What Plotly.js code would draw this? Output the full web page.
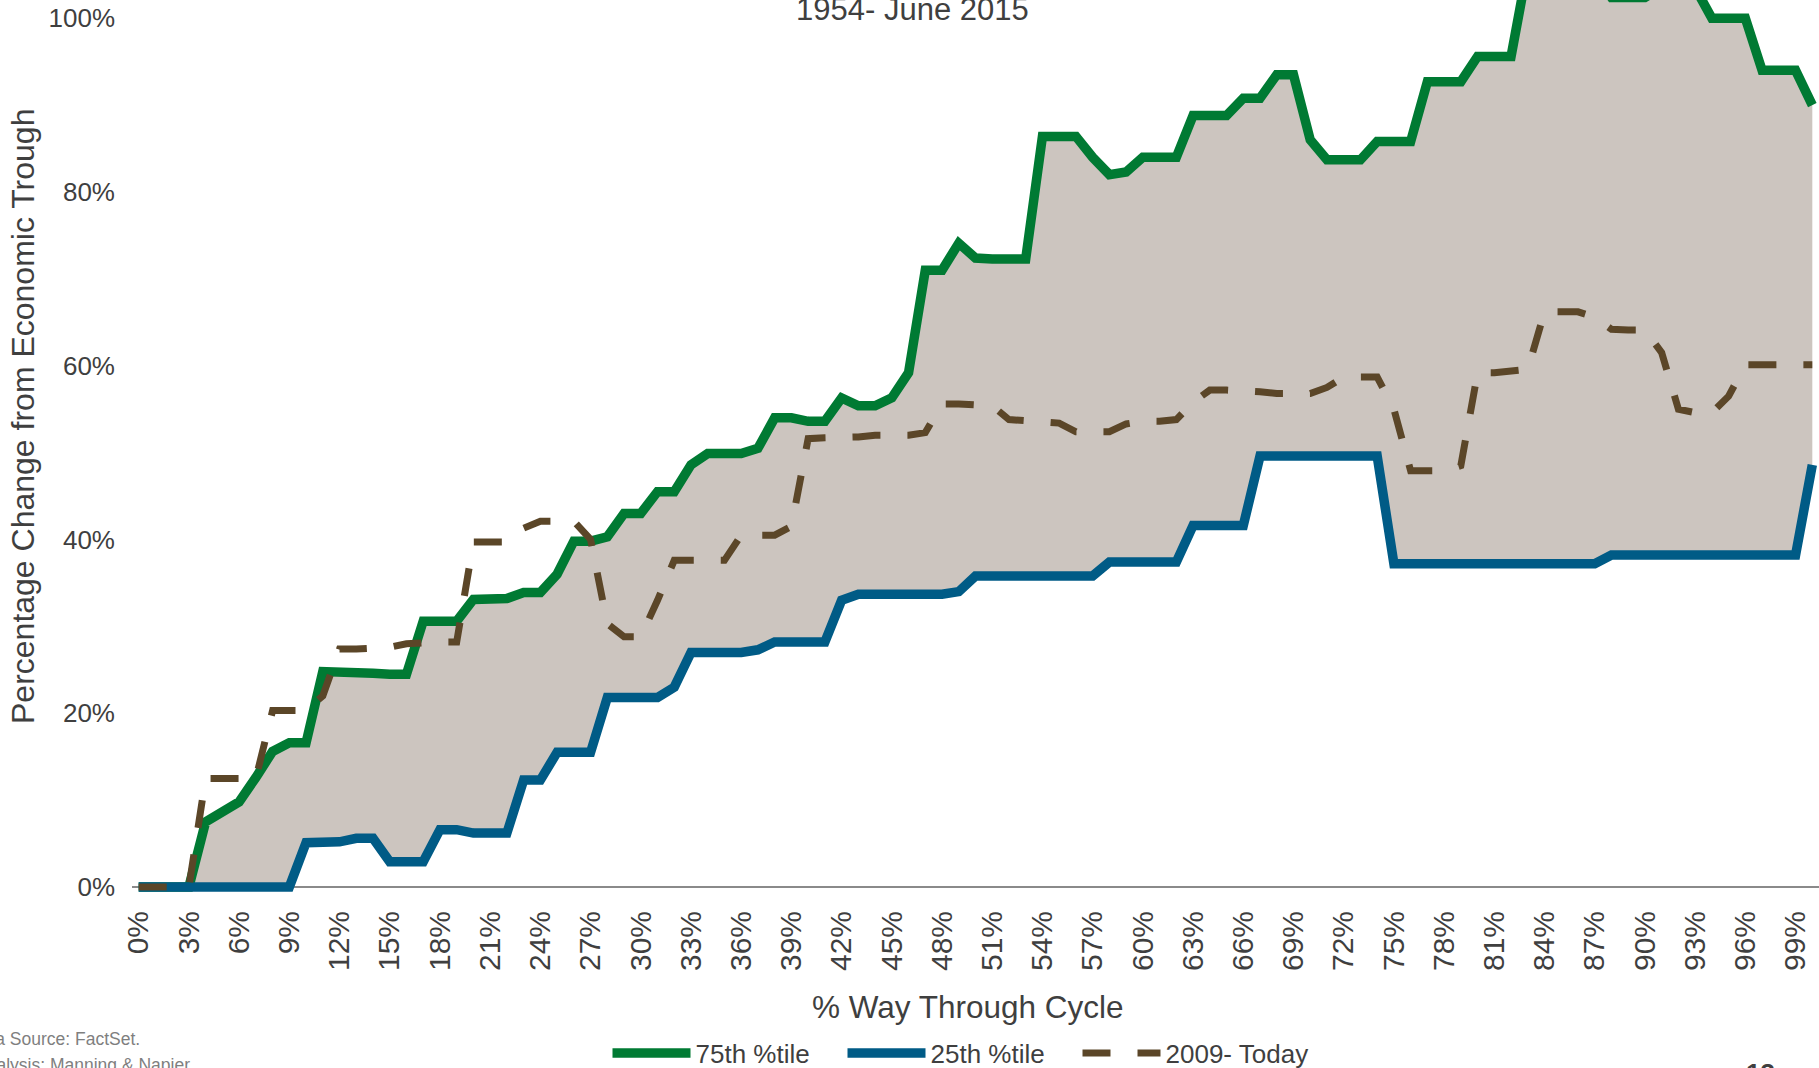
<!DOCTYPE html>
<html>
<head>
<meta charset="utf-8">
<script src="https://cdn.plot.ly/plotly-3.0.1.min.js"></script>
<style>
  html, body { margin: 0; padding: 0; background: #ffffff; }
  #chart { width: 1819px; height: 1068px; }
</style>
</head>
<body>
<div id="chart"></div>
<script>
// ---- data ----
const pctThrough = [0,1,2,3,4,5,6,7,8,9,10,11,12,13,14,15,16,17,18,19,20,21,22,23,24,25,26,27,28,29,30,31,32,33,34,35,36,37,38,39,40,41,42,43,44,45,46,47,48,49,50,51,52,53,54,55,56,57,58,59,60,61,62,63,64,65,66,67,68,69,70,71,72,73,74,75,76,77,78,79,80,81,82,83,84,85,86,87,88,89,90,91,92,93,94,95,96,97,98,99,100];

const p75 = [0,0,0,0,7.5,8.7,9.8,12.6,15.6,16.6,
             16.6,24.8,24.8,24.7,24.6,24.5,24.5,30.6,30.6,30.6,
             33.1,33.1,33.2,33.9,33.9,36.0,39.8,39.8,40.3,43.0,
             43.0,45.5,45.5,48.6,49.9,49.9,49.9,50.5,54.0,54.0,
             53.6,53.6,56.3,55.4,55.4,56.3,59.2,71.0,71.0,74.1,
             72.4,72.3,72.3,72.3,86.4,86.4,86.4,84.0,82.0,82.3,
             84.0,84.0,84.0,88.8,88.8,88.8,90.8,90.8,93.5,93.5,
             86.0,83.7,83.7,83.7,85.8,85.8,85.8,92.7,92.7,92.7,
             95.6,95.6,95.6,106.0,107.0,107.0,107.0,105.0,102.4,102.4,
             102.4,103.5,105.0,103.5,100.0,100.0,100.0,94.0,94.0,94.0,
             90.0];

const p25 = [0,0,0,0,0,0,0,0,0,0,
             5.1,5.1,5.2,5.6,5.6,2.9,2.9,2.9,6.6,6.6,
             6.2,6.2,6.2,12.3,12.3,15.5,15.5,15.5,21.8,21.8,
             21.8,21.8,23.0,27.0,27.0,27.0,27.0,27.3,28.2,28.2,
             28.2,28.2,33.0,33.7,33.7,33.7,33.7,33.7,33.7,34.0,
             35.8,35.8,35.8,35.8,35.8,35.8,35.8,35.8,37.4,37.4,
             37.4,37.4,37.4,41.6,41.6,41.6,41.6,49.6,49.6,49.6,
             49.6,49.6,49.6,49.6,49.6,37.2,37.2,37.2,37.2,37.2,
             37.2,37.2,37.2,37.2,37.2,37.2,37.2,37.2,38.2,38.2,
             38.2,38.2,38.2,38.2,38.2,38.2,38.2,38.2,38.2,38.2,
             48.6];

const cycle2009 = [0,0,0,0,12.5,12.5,12.5,12.5,20.3,20.3,
                   20.3,22.0,27.4,27.4,27.4,27.6,28.0,28.2,28.2,28.2,
                   39.7,39.7,39.7,41.3,42.1,42.1,42.1,40.0,30.3,28.8,
                   28.8,33.0,37.6,37.6,37.6,37.6,40.5,40.5,40.5,41.5,
                   51.6,51.7,51.7,51.8,52.0,52.0,52.0,52.3,55.6,55.6,
                   55.6,55.4,53.8,53.7,53.7,53.4,52.4,52.4,52.4,53.3,
                   53.6,53.6,53.8,55.8,57.2,57.2,57.2,57.0,56.8,56.8,
                   56.8,57.5,58.7,58.7,58.7,55.0,47.9,47.9,47.9,48.5,
                   59.2,59.2,59.3,59.6,66.2,66.2,66.2,65.6,64.2,64.1,
                   64.1,61.5,55.0,54.6,54.6,56.5,60.1,60.1,60.1,60.1,
                   60.1];

const seriesNames = ["75th %tile", "25th %tile", "2009- Today"];

const xTickVals = [0,3,6,9,12,15,18,21,24,27,30,33,36,39,42,45,48,51,54,57,60,63,66,69,72,75,78,81,84,87,90,93,96,99];
const xTickText = ["0%","3%","6%","9%","12%","15%","18%","21%","24%","27%","30%","33%","36%","39%","42%","45%","48%","51%","54%","57%","60%","63%","66%","69%","72%","75%","78%","81%","84%","87%","90%","93%","96%","99%"];
const yTickVals = [0,20,40,60,80,100];
const yTickText = ["0%","20%","40%","60%","80%","100%"];

const chartSubtitle = "1954- June 2015";
const xTitle = "% Way Through Cycle";
const yTitle = "Percentage Change from Economic Trough";
const sourceLine = "Data Source: FactSet.";
const analysisLine = "Analysis: Manning & Napier";
const pageNumber = "13";

// ---- styling ----
const FONT = "Liberation Sans, Arial, Helvetica, sans-serif";
const TEXT = "#3f3f3f";
const GREEN = "#007a33";
const BLUE = "#005b86";
const BROWN = "#5b4628";
const BAND = "#ccc5bf";

const traces = [
  { x: pctThrough, y: p25, type: "scatter", mode: "lines",
    line: { width: 0, color: BAND }, showlegend: false, hoverinfo: "skip" },
  { x: pctThrough, y: p75, type: "scatter", mode: "lines", fill: "tonexty",
    fillcolor: BAND, line: { width: 0, color: BAND }, showlegend: false, hoverinfo: "skip" },
  { x: pctThrough, y: p75, type: "scatter", mode: "lines", name: seriesNames[0],
    line: { color: GREEN, width: 9.5 } },
  { x: pctThrough, y: p25, type: "scatter", mode: "lines", name: seriesNames[1],
    line: { color: BLUE, width: 9.5 } },
  { x: pctThrough, y: cycle2009, type: "scatter", mode: "lines", name: seriesNames[2],
    line: { color: BROWN, width: 7, dash: "28px,27px" } }
];

// plot area geometry (pixels)
const L = 132, R = 0, T = 0, B = 168;
const W = 1819 - L - R, H = 1068 - T - B;
const px = (x) => (x - L) / W;            // page x -> paper x
const py = (y) => (1068 - B - y) / H;     // page y -> paper y

const layout = {
  width: 1819, height: 1068,
  margin: { l: L, r: R, t: T, b: B, pad: 0, autoexpand: false },
  paper_bgcolor: "#ffffff", plot_bgcolor: "#ffffff",
  font: { family: FONT, color: TEXT },
  showlegend: true,
  hovermode: false,
  xaxis: {
    range: [-0.4, 100.4],
    tickmode: "array", tickvals: xTickVals, ticktext: xTickText,
    tickangle: -90, tickfont: { family: FONT, size: 30, color: TEXT },
    ticks: "", showgrid: false, zeroline: false, showline: false,
    ticklabelstandoff: 4, automargin: false, fixedrange: true
  },
  yaxis: {
    range: [-1.5, 102.1],
    tickmode: "array", tickvals: yTickVals, ticktext: yTickText,
    tickfont: { family: FONT, size: 26, color: TEXT },
    ticks: "", showgrid: false, showline: false,
    zeroline: true, zerolinecolor: "#8a8a8a", zerolinewidth: 2,
    ticklabelstandoff: 16, automargin: false, fixedrange: true
  },
  legend: {
    orientation: "h", xref: "container", yref: "container",
    x: 960 / 1819, xanchor: "center", y: (1068 - 1053) / 1068, yanchor: "middle",
    font: { family: FONT, size: 26, color: TEXT }, bgcolor: "rgba(0,0,0,0)",
    traceorder: "normal", itemwidth: 78, entrywidth: 142, entrywidthmode: "pixels"
  },
  annotations: [
    { text: chartSubtitle, xref: "paper", yref: "paper", x: px(912), y: py(10),
      xanchor: "center", yanchor: "middle", showarrow: false,
      font: { family: FONT, size: 31, color: TEXT } },
    { text: yTitle, xref: "paper", yref: "paper", x: px(23), y: py(417),
      xanchor: "center", yanchor: "middle", textangle: -90, showarrow: false,
      font: { family: FONT, size: 32, color: TEXT } },
    { text: xTitle, xref: "paper", yref: "paper", x: px(968), y: py(1007),
      xanchor: "center", yanchor: "middle", showarrow: false,
      font: { family: FONT, size: 31.5, color: TEXT } },
    { text: sourceLine, xref: "paper", yref: "paper", x: px(-34), y: py(1039),
      xanchor: "left", yanchor: "middle", showarrow: false,
      font: { family: FONT, size: 17.5, color: "#7f7f7f" } },
    { text: analysisLine, xref: "paper", yref: "paper", x: px(-27), y: py(1065),
      xanchor: "left", yanchor: "middle", showarrow: false,
      font: { family: FONT, size: 17.5, color: "#7f7f7f" } },
    { text: "<b>" + pageNumber + "</b>", xref: "paper", yref: "paper", x: px(1760), y: py(1056),
      xanchor: "center", yanchor: "top", showarrow: false,
      font: { family: FONT, size: 26, color: TEXT } }
  ]
};

Plotly.newPlot("chart", traces, layout, { displayModeBar: false, staticPlot: true });
</script>
</body>
</html>
